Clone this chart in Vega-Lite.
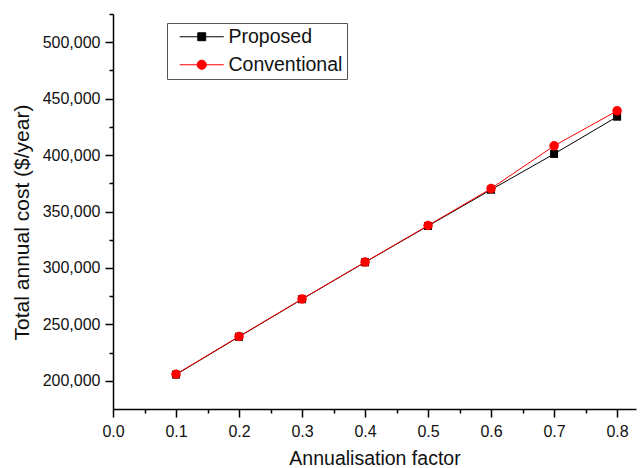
{
  "$schema": "https://vega.github.io/schema/vega-lite/v6.json",
  "width": 523,
  "height": 395,
  "autosize": {"type": "none"},
  "padding": {"left": 113, "top": 14, "right": 4, "bottom": 59},
  "background": "white",
  "config": {
    "view": {"stroke": null},
    "font": "Liberation Sans",
    "axis": {"grid": false, "domainColor": "#000", "tickColor": "#000", "labelColor": "#111", "titleColor": "#111", "labelFont": "Liberation Sans", "titleFont": "Liberation Sans", "labelFontSize": 16, "titleFontSize": 19.5, "titleFontWeight": "normal"}
  },
  "data": {
    "values": [
      {"x": 0.1, "cost": 205500, "series": "Proposed"},
      {"x": 0.2, "cost": 239000, "series": "Proposed"},
      {"x": 0.3, "cost": 272300, "series": "Proposed"},
      {"x": 0.4, "cost": 305000, "series": "Proposed"},
      {"x": 0.5, "cost": 337200, "series": "Proposed"},
      {"x": 0.6, "cost": 369300, "series": "Proposed"},
      {"x": 0.7, "cost": 401000, "series": "Proposed"},
      {"x": 0.8, "cost": 434000, "series": "Proposed"},
      {"x": 0.1, "cost": 205800, "series": "Conventional"},
      {"x": 0.2, "cost": 239300, "series": "Conventional"},
      {"x": 0.3, "cost": 272500, "series": "Conventional"},
      {"x": 0.4, "cost": 305200, "series": "Conventional"},
      {"x": 0.5, "cost": 337600, "series": "Conventional"},
      {"x": 0.6, "cost": 370300, "series": "Conventional"},
      {"x": 0.7, "cost": 408200, "series": "Conventional"},
      {"x": 0.8, "cost": 439200, "series": "Conventional"}
    ]
  },
  "resolve": {"axis": {"x": "independent", "y": "independent"}},
  "layer": [
    {
      "mark": {"type": "line", "strokeWidth": 1},
      "encoding": {
        "x": {"field": "x", "type": "quantitative", "scale": {"domain": [0, 0.83], "nice": false, "zero": false},
          "axis": {"orient": "bottom", "title": "Annualisation factor", "values": [0, 0.1, 0.2, 0.3, 0.4, 0.5, 0.6, 0.7, 0.8], "format": ".1f", "domainWidth": 1.5, "tickWidth": 1.5, "tickSize": 8, "labelPadding": 6, "titlePadding": 10, "labelFlush": false}},
        "y": {"field": "cost", "type": "quantitative", "scale": {"domain": [175000, 525000], "nice": false, "zero": false},
          "axis": {"orient": "left", "title": "Total annual cost ($/year)", "titleFontSize": 21, "titleY": 208, "values": [200000, 250000, 300000, 350000, 400000, 450000, 500000], "format": ",.0f", "domainWidth": 1.5, "tickWidth": 1.5, "tickSize": 8, "labelPadding": 5, "titlePadding": 10, "labelFlush": false}},
        "color": {"field": "series", "type": "nominal", "scale": {"domain": ["Proposed", "Conventional"], "range": ["#000000", "#ff0000"]},
          "legend": {"title": null, "orient": "none", "legendX": 54, "legendY": 9, "strokeColor": "#555", "fillColor": "white", "padding": 4, "rowPadding": 7, "labelFontSize": 19.5, "labelFont": "Liberation Sans", "labelColor": "#111", "symbolOffset": 21, "labelOffset": 17, "symbolSize": 310, "symbolStrokeWidth": 1}},
        "shape": {"field": "series", "type": "nominal", "scale": {"domain": ["Proposed", "Conventional"], "range": ["M-2.5,0H2.5M-0.45,-0.45H0.45V0.45H-0.45Z", "M-2.5,0H2.5M0.52,0A0.52,0.52,0,1,1,-0.52,0A0.52,0.52,0,1,1,0.52,0Z"]},
          "legend": {"title": null, "orient": "none", "legendX": 54, "legendY": 9, "strokeColor": "#555", "fillColor": "white", "padding": 4, "rowPadding": 7, "labelFontSize": 19.5, "labelFont": "Liberation Sans", "labelColor": "#111", "symbolOffset": 21, "labelOffset": 17, "symbolSize": 310, "symbolStrokeWidth": 1}}
      }
    },
    {
      "transform": [{"filter": "datum.series == 'Proposed'"}],
      "mark": {"type": "point", "shape": "square", "filled": true, "size": 64, "opacity": 1},
      "encoding": {
        "x": {"field": "x", "type": "quantitative",
          "axis": {"orient": "bottom", "title": null, "labels": false, "domain": false, "values": [0.05, 0.15, 0.25, 0.35, 0.45, 0.55, 0.65, 0.75], "tickSize": 4, "tickWidth": 1.5}},
        "y": {"field": "cost", "type": "quantitative",
          "axis": {"orient": "left", "title": null, "labels": false, "domain": false, "values": [225000, 275000, 325000, 375000, 425000, 475000, 525000], "tickSize": 4, "tickWidth": 1.5}},
        "color": {"field": "series", "type": "nominal"}
      }
    },
    {
      "transform": [{"filter": "datum.series == 'Conventional'"}],
      "mark": {"type": "point", "shape": "circle", "filled": true, "size": 90, "opacity": 1},
      "encoding": {
        "x": {"field": "x", "type": "quantitative", "axis": null},
        "y": {"field": "cost", "type": "quantitative", "axis": null},
        "color": {"field": "series", "type": "nominal"}
      }
    }
  ]
}
